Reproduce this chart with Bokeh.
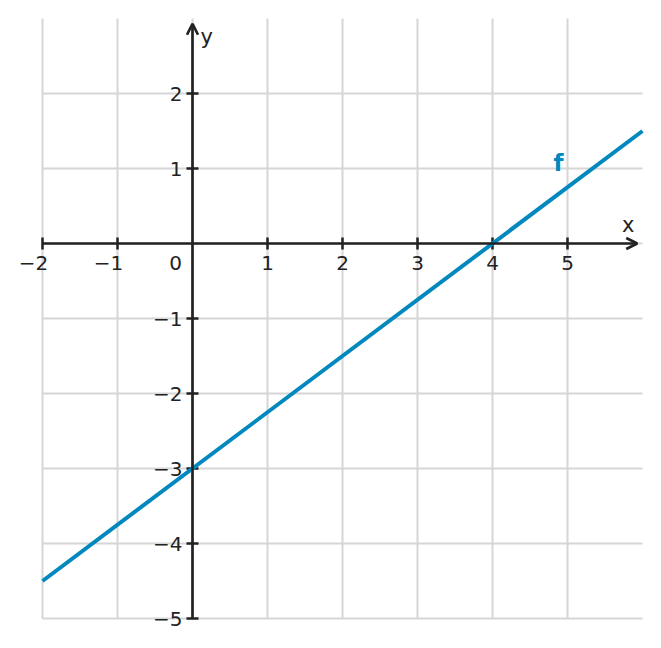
from math import pi
from bokeh.plotting import figure
from bokeh.models import Arrow, OpenHead, Range1d
from bokeh.core.properties import value
from bokeh.embed import file_html
from bokeh.resources import INLINE

# data
x_ticks = [-2, -1, 1, 2, 3, 4, 5]
x_tick_labels = ["\u22122", "\u22121", "1", "2", "3", "4", "5"]
y_ticks = [-5, -4, -3, -2, -1, 1, 2]
y_tick_labels = ["\u22125", "\u22124", "\u22123", "\u22122", "\u22121", "1", "2"]
x_grid = [-2, -1, 0, 1, 2, 3, 4, 5]
y_grid = [-5, -4, -3, -2, -1, 0, 1, 2]
x_lim = (-2, 6)
y_lim = (-5, 3)
f_x = [-2, 6]
f_y = [-4.5, 1.5]
f_label = "f"

FONT = "DejaVu Sans"
AX = "#222222"
BLUE = "#0088bf"
GRID = "#d6d6d6"
FS = "20px"

# 75 px per unit; the frame spans the whole figure so labels outside the grid are not clipped
PX = 75.0
W, H = 657, 640
LEFT, TOP = 42, 18
x0 = x_lim[0] - LEFT / PX
y1 = y_lim[1] + TOP / PX
p = figure(frame_width=W, frame_height=H, output_backend="svg", toolbar_location=None,
           x_range=Range1d(x0, x0 + W / PX), y_range=Range1d(y1 - H / PX, y1),
           x_axis_type=None, y_axis_type=None, min_border=0)
p.outline_line_color = None
p.background_fill_color = "white"
p.xgrid.visible = False
p.ygrid.visible = False

# grid lines
p.segment(x0=x_grid, y0=[y_lim[0]] * len(x_grid), x1=x_grid, y1=[y_lim[1]] * len(x_grid),
          line_color=GRID, line_width=2)
p.segment(x0=[x_lim[0]] * len(y_grid), y0=y_grid, x1=[x_lim[1]] * len(y_grid), y1=y_grid,
          line_color=GRID, line_width=2)

# axis lines with arrows
p.add_layout(Arrow(x_start=x_lim[0], y_start=0, x_end=5.93, y_end=0, line_color=AX, line_width=2.7,
                   end=OpenHead(size=11, line_color=AX, line_width=2.7)))
p.add_layout(Arrow(x_start=0, y_start=y_lim[0], x_end=0, y_end=2.93, line_color=AX, line_width=2.7,
                   end=OpenHead(size=11, line_color=AX, line_width=2.7)))

# tick marks
p.dash(x=x_ticks, y=[0] * len(x_ticks), size=12, angle=pi / 2, line_color=AX, line_width=2.5)
p.dash(x=[0] * len(y_ticks), y=y_ticks, size=12, line_color=AX, line_width=2.5)

# tick labels
x_off = [-9 if t < 0 else 0 for t in x_ticks]
p.text(x=x_ticks, y=[0] * len(x_ticks), text=x_tick_labels, x_offset=x_off, y_offset=19,
       text_font=value(FONT), text_font_size=FS, text_color=AX,
       text_align="center", text_baseline="middle")
p.text(x=[0] * len(y_ticks), y=y_ticks, text=y_tick_labels, x_offset=-10, y_offset=0,
       text_font=value(FONT), text_font_size=FS, text_color=AX,
       text_align="right", text_baseline="middle")

# origin and axis names
p.text(x=[0], y=[0], text=["0"], x_offset=-17, y_offset=19, text_font=value(FONT),
       text_font_size=FS, text_color=AX, text_align="center", text_baseline="middle")
p.text(x=[5.81], y=[0.25], text=["x"], text_font=value(FONT), text_font_size="21px",
       text_color=AX, text_align="center", text_baseline="middle")
p.text(x=[0.19], y=[2.76], text=["y"], text_font=value(FONT), text_font_size="21px",
       text_color=AX, text_align="center", text_baseline="middle")

# function line
p.line(f_x, f_y, line_color=BLUE, line_width=4)
p.text(x=[4.88], y=[1.08], text=[f_label], text_font=value(FONT), text_font_size="23px",
       text_font_style="bold", text_color=BLUE, text_align="center", text_baseline="middle")

open("out.html", "w").write(file_html(p, INLINE))
